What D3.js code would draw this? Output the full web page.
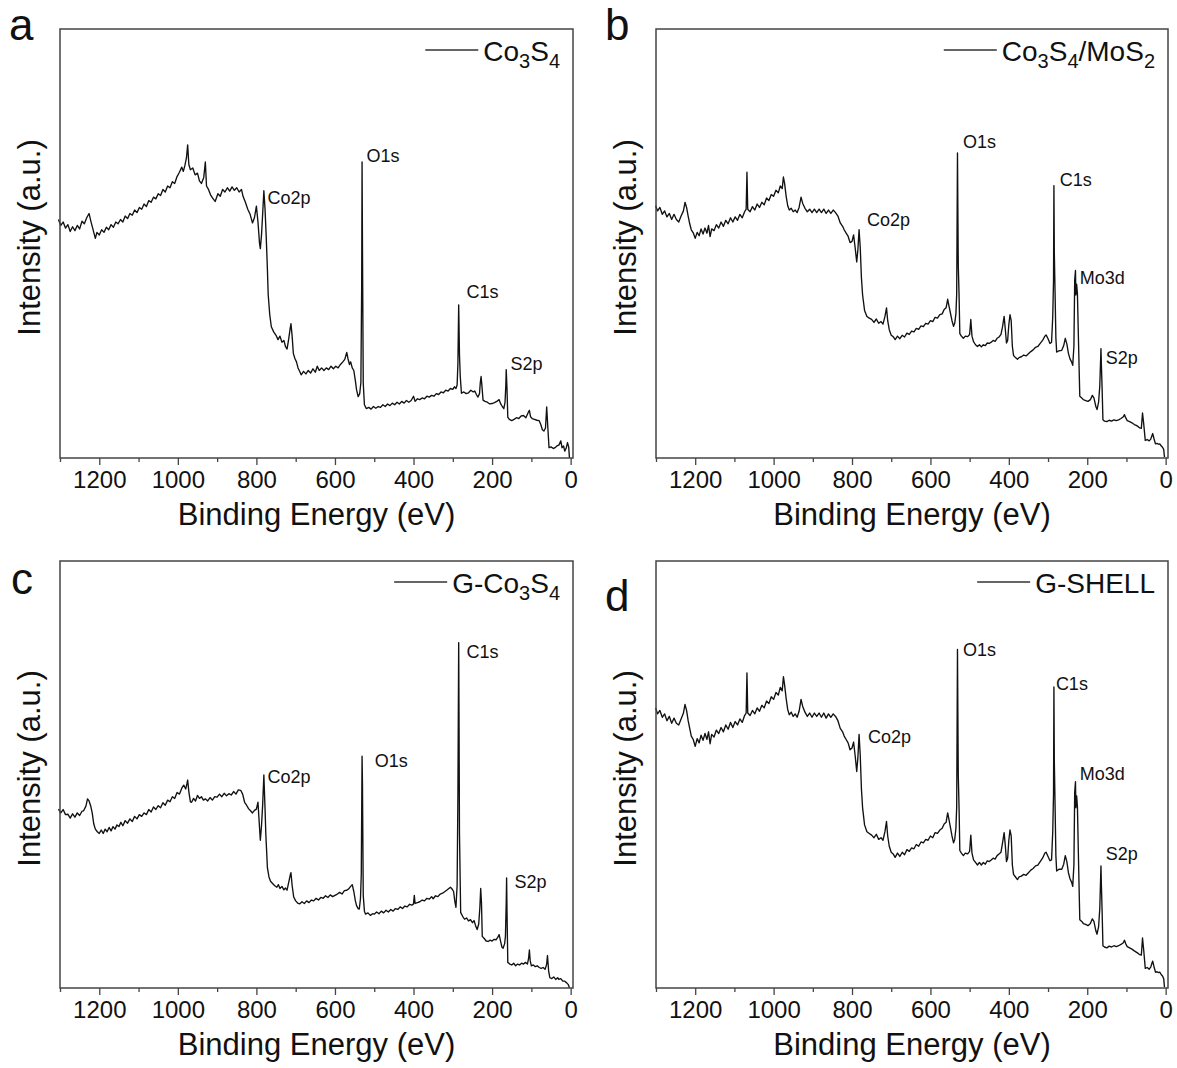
<!DOCTYPE html>
<html lang="en">
<head>
    <meta charset="UTF-8">
    <title>XPS survey spectra</title>
    <script src="https://d3js.org/d3.v7.min.js"></script>
    <style>
        body { margin: 0; background: #fff; }
        text { font-family: "Liberation Sans", Arial, sans-serif; fill: #111; }
        .frame { fill: none; stroke: #444; stroke-width: 1.5; }
        .spectrum { fill: none; stroke: #111; stroke-width: 1.35; stroke-linejoin: round; }
        .axis path { display: none; }
        .axis line { stroke: #444; stroke-width: 1.3; }
        .axis text { font-size: 24px; }
        .title { font-size: 31px; }
        .letter { font-size: 44px; }
        .legend { font-size: 28px; }
        .peak { font-size: 18px; }
    </style>
</head>
<body>
<script>
    // Tick values on the energy axis
    const majorTicks = [1200, 1000, 800, 600, 400, 200, 0];
    const minorTicks = [1300, 1100, 900, 700, 500, 300, 100];

    // Sample names (digits drawn as subscripts)
    const sampleNames = ["Co3S4", "Co3S4/MoS2", "G-Co3S4", "G-SHELL"];
    const panelLetters = ["a", "b", "c", "d"];

    // Spectra: [binding energy (eV), intensity (a.u., 0-100)]
    const spectrumA = [[1304,55.6],[1298,54.2],[1292,55.0],[1286,53.6],[1280,54.4],[1274,52.8],[1268,53.9],[1262,53.0],[1256,54.2],[1250,53.4],[1244,55.2],[1238,54.6],[1232,56.0],[1226,57.0],[1222,55.4],[1218,54.0],[1214,52.6],[1210,51.2],[1206,52.6],[1200,52.0],[1194,53.2],[1188,52.6],[1182,53.8],[1176,53.2],[1170,54.4],[1164,53.8],[1158,55.0],[1152,54.6],[1146,55.6],[1140,55.0],[1134,56.4],[1128,55.8],[1122,57.0],[1116,56.6],[1110,57.8],[1104,57.2],[1098,58.4],[1092,58.0],[1086,59.2],[1080,58.6],[1074,60.0],[1068,59.6],[1062,60.8],[1056,60.4],[1050,61.6],[1044,61.2],[1038,62.6],[1032,62.0],[1026,63.4],[1020,63.0],[1014,64.4],[1008,64.0],[1002,65.6],[996,66.6],[990,67.8],[986,66.8],[982,68.2],[978,70.0],[975,73.0],[972,68.4],[968,67.2],[962,67.6],[956,66.0],[950,66.4],[945,64.6],[940,64.0],[934,65.4],[930,69.0],[927,63.4],[922,62.6],[916,61.2],[910,60.4],[905,59.8],[898,61.6],[892,61.0],[886,62.6],[880,62.0],[874,63.0],[868,62.2],[862,63.2],[856,62.4],[850,63.0],[844,62.0],[838,62.6],[834,61.0],[828,59.6],[822,58.0],[816,56.8],[810,54.8],[805,56.0],[800,58.7],[796,55.0],[792,50.0],[790,48.8],[787,52.0],[784,57.0],[781,62.3],[778,58.0],[775,51.6],[772,44.0],[770,38.1],[766,33.4],[762,30.6],[756,29.4],[750,28.6],[745,27.6],[740,28.4],[735,27.0],[730,27.4],[726,26.0],[722,25.4],[718,27.6],[714,30.2],[712,31.3],[709,28.4],[706,24.4],[702,23.2],[698,22.4],[694,21.0],[690,20.2],[686,19.4],[680,20.2],[674,19.6],[668,20.4],[662,19.8],[656,20.8],[650,20.0],[645,21.4],[640,20.4],[634,21.0],[628,20.4],[622,21.0],[616,20.6],[610,21.4],[604,20.8],[598,21.4],[592,21.0],[586,21.8],[580,22.4],[575,23.0],[570,24.6],[567,23.2],[563,21.8],[560,22.4],[556,21.0],[552,20.4],[548,18.0],[545,15.9],[541,14.3],[537,15.0],[534,17.6],[532,40.0],[531,69.0],[530,50.0],[528,17.5],[525,12.4],[520,11.5],[514,11.8],[508,11.4],[502,12.0],[496,11.6],[490,12.0],[484,11.8],[478,12.4],[472,12.0],[466,12.6],[460,12.2],[454,12.8],[448,12.4],[442,13.0],[436,12.6],[430,13.2],[424,12.8],[418,13.4],[412,13.0],[406,13.4],[400,14.4],[396,13.2],[390,13.8],[384,13.6],[378,14.0],[372,13.8],[366,14.4],[360,14.2],[354,14.6],[348,14.4],[342,15.0],[336,14.8],[330,15.4],[324,15.2],[318,15.8],[312,15.6],[306,16.2],[300,16.0],[296,16.6],[292,16.2],[289,17.0],[287,22.0],[285,35.7],[283,24.0],[281,19.0],[278,15.1],[272,15.4],[266,15.0],[260,15.2],[254,15.8],[248,15.4],[244,15.6],[240,14.8],[236,14.2],[232,15.0],[230,17.6],[228,19.0],[226,17.0],[223,13.5],[218,13.2],[212,13.0],[206,12.6],[200,12.7],[194,12.9],[188,13.2],[182,13.6],[178,12.6],[174,12.0],[170,11.5],[167,13.0],[165,17.0],[164,20.6],[162,16.0],[160,9.5],[156,9.0],[150,8.7],[144,9.0],[138,9.4],[132,9.2],[126,9.8],[120,9.9],[114,9.4],[108,10.6],[105,11.1],[102,9.6],[98,9.2],[92,9.0],[86,8.8],[80,8.7],[76,7.8],[72,6.6],[68,6.3],[64,7.0],[61,11.9],[58,7.0],[55,2.4],[50,2.6],[44,2.2],[40,2.4],[35,2.8],[30,3.0],[25,4.0],[22,2.4],[18,2.8],[15,1.6],[11,2.4],[8,3.6],[5,2.6],[3,0]];

    const spectrumB = [[1301,58.8],[1296,57.6],[1290,58.4],[1284,56.8],[1278,57.6],[1272,56.2],[1266,57.0],[1260,55.6],[1254,56.8],[1248,55.6],[1242,55.0],[1236,56.4],[1230,57.6],[1226,59.6],[1222,58.4],[1218,56.4],[1214,54.6],[1210,53.2],[1205,52.5],[1200,51.2],[1195,52.6],[1190,51.8],[1185,53.4],[1180,52.2],[1175,53.6],[1170,52.4],[1166,54.2],[1162,51.6],[1158,53.4],[1152,53.0],[1146,54.4],[1140,53.6],[1134,55.0],[1128,54.0],[1122,55.4],[1116,54.6],[1110,56.0],[1104,55.0],[1098,56.2],[1092,55.4],[1086,56.8],[1080,56.0],[1074,57.4],[1070,58.0],[1068,66.6],[1066,58.0],[1060,57.4],[1054,58.6],[1048,57.8],[1042,59.2],[1036,58.4],[1030,59.6],[1024,59.0],[1018,60.6],[1012,60.0],[1006,61.4],[1000,61.0],[994,62.4],[988,61.8],[983,63.4],[978,62.8],[975,65.5],[972,64.0],[968,61.0],[964,58.8],[960,57.8],[955,58.2],[950,57.4],[945,57.8],[940,57.2],[935,58.4],[930,60.8],[926,59.4],[920,58.2],[914,57.4],[908,58.0],[902,57.2],[896,58.0],[890,57.2],[884,58.0],[878,57.2],[872,58.0],[866,57.0],[860,57.8],[854,57.0],[848,57.8],[842,57.2],[836,56.4],[830,54.8],[824,54.0],[820,53.2],[815,52.4],[810,51.7],[805,50.2],[800,50.5],[796,52.0],[792,49.0],[788,45.7],[785,48.6],[782,53.2],[779,49.0],[776,42.0],[773,38.0],[768,34.4],[762,33.0],[756,32.6],[750,32.3],[744,31.6],[738,32.4],[732,31.4],[726,31.8],[721,31.2],[716,33.0],[712,35.0],[709,32.0],[705,29.9],[700,28.6],[695,28.3],[690,27.6],[684,28.4],[678,27.8],[672,28.6],[666,28.2],[660,29.1],[654,28.8],[648,29.6],[642,29.4],[636,30.2],[630,30.0],[624,30.8],[618,30.6],[612,31.4],[606,31.2],[600,32.0],[594,31.8],[588,32.8],[582,32.6],[576,33.4],[570,33.6],[565,34.6],[560,35.0],[556,37.0],[553,35.6],[549,33.8],[545,32.0],[541,30.7],[538,31.4],[535,33.6],[533,38.2],[531,71.1],[529,45.0],[527,38.2],[525,29.0],[521,28.4],[516,27.9],[511,28.4],[505,28.3],[500,28.8],[497,32.3],[494,28.4],[490,27.1],[485,26.4],[480,26.0],[475,26.4],[470,25.9],[465,26.4],[460,26.2],[455,26.8],[450,26.7],[445,27.0],[440,27.4],[435,27.2],[430,27.9],[425,28.2],[420,28.8],[416,30.6],[412,33.0],[409,30.0],[406,26.8],[403,27.4],[400,31.1],[397,33.4],[394,32.0],[391,26.0],[388,23.9],[383,23.4],[378,23.0],[374,23.4],[368,23.6],[362,24.0],[356,23.8],[350,24.3],[344,24.8],[338,25.2],[332,25.8],[326,26.0],[320,26.7],[314,27.4],[308,28.4],[305,28.7],[300,27.8],[295,26.7],[291,27.0],[288,33.0],[286,41.4],[285,63.5],[284,48.0],[282,38.2],[280,28.0],[278,24.7],[272,25.0],[265,25.1],[260,26.2],[256,27.9],[252,26.6],[248,24.4],[244,23.1],[240,22.4],[237,21.6],[234,26.0],[232,41.4],[230,43.7],[229,38.0],[227,40.5],[225,38.2],[223,30.0],[221,22.0],[219,14.4],[214,14.0],[210,13.6],[204,13.4],[198,13.2],[192,13.6],[187,14.6],[183,14.0],[178,12.0],[175,11.3],[171,13.0],[168,16.8],[165,25.5],[164,22.0],[162,16.0],[160,8.9],[156,8.6],[150,8.5],[144,8.8],[138,8.6],[132,8.9],[126,8.7],[120,8.9],[114,9.2],[108,9.6],[105,10.1],[102,9.4],[98,8.7],[92,8.5],[86,8.2],[80,7.8],[75,7.6],[70,7.3],[66,7.0],[62,6.9],[59,10.5],[56,8.0],[52,4.1],[47,4.3],[42,4.0],[38,4.4],[35,5.2],[33,5.7],[30,4.6],[26,3.3],[22,3.4],[18,3.2],[15,3.3],[11,2.8],[8,2.5],[5,2.0],[3,0.2]];

    const spectrumC = [[1304,41.9],[1298,41.0],[1292,41.8],[1286,40.6],[1280,40.7],[1274,39.8],[1268,40.8],[1262,40.0],[1256,41.0],[1250,40.4],[1244,41.4],[1240,41.5],[1234,42.6],[1230,44.3],[1226,43.8],[1222,42.7],[1218,41.0],[1214,38.4],[1210,37.2],[1205,36.6],[1200,36.2],[1195,37.0],[1190,36.2],[1185,37.2],[1180,36.6],[1175,37.6],[1170,36.8],[1165,37.8],[1160,37.2],[1155,38.2],[1150,37.8],[1145,38.8],[1140,38.0],[1134,39.2],[1128,38.6],[1122,39.6],[1116,39.0],[1110,40.2],[1104,39.6],[1098,40.6],[1092,40.2],[1086,41.0],[1080,40.6],[1074,41.8],[1068,41.2],[1062,42.4],[1056,41.8],[1050,42.7],[1044,42.2],[1038,43.4],[1032,42.8],[1026,44.0],[1020,43.6],[1014,44.8],[1008,44.4],[1002,45.8],[996,45.4],[990,46.8],[985,47.5],[980,46.6],[977,47.8],[975,48.7],[972,46.0],[968,43.6],[965,43.5],[960,44.4],[955,43.8],[950,45.1],[945,44.4],[940,44.8],[935,44.0],[930,44.3],[924,43.8],[918,44.6],[912,44.0],[906,44.8],[900,44.7],[894,45.4],[888,44.8],[882,45.6],[876,45.0],[870,45.5],[864,45.2],[858,46.0],[852,45.4],[846,46.4],[840,46.3],[835,45.4],[830,43.5],[825,42.8],[820,42.0],[815,41.5],[810,41.0],[805,41.6],[800,41.9],[796,43.5],[793,39.0],[790,34.6],[787,38.0],[784,43.0],[781,49.9],[778,42.0],[776,36.0],[772,28.2],[768,26.0],[764,25.0],[760,24.6],[754,24.0],[748,23.6],[744,24.2],[740,23.3],[735,23.8],[730,23.0],[726,23.4],[722,22.9],[718,24.6],[714,26.4],[712,27.0],[709,24.0],[705,21.3],[700,20.4],[695,19.9],[690,19.7],[684,20.2],[678,19.8],[672,20.4],[666,20.0],[660,20.6],[654,20.4],[648,21.0],[642,20.6],[636,21.2],[630,21.0],[624,21.6],[618,21.2],[612,21.8],[606,21.4],[600,21.7],[594,22.0],[588,22.4],[582,22.0],[576,22.8],[570,22.9],[565,23.2],[560,23.8],[556,24.2],[552,22.6],[548,20.4],[545,19.3],[541,18.6],[538,18.5],[535,21.0],[533,26.6],[531,54.3],[530,48.0],[528,21.7],[525,18.0],[522,17.3],[516,17.6],[510,17.0],[504,17.4],[500,17.3],[494,17.8],[488,17.4],[482,18.0],[476,17.6],[470,18.2],[464,17.8],[458,18.4],[452,18.0],[446,18.6],[440,18.4],[434,19.0],[428,18.6],[422,19.2],[416,19.0],[410,19.6],[404,19.4],[400,19.7],[398,21.7],[396,19.8],[390,20.0],[384,20.2],[378,20.6],[372,20.4],[366,21.0],[360,20.8],[354,21.4],[350,20.9],[344,21.6],[338,21.4],[332,22.0],[326,22.2],[320,22.6],[314,23.0],[310,23.3],[306,23.6],[302,23.2],[298,22.6],[295,20.4],[292,18.9],[289,24.0],[287,45.1],[285,80.9],[284,60.0],[283,36.2],[281,24.0],[280,17.7],[275,16.8],[270,16.1],[265,16.4],[260,15.7],[255,16.0],[250,15.3],[246,15.8],[242,14.6],[238,13.7],[234,15.0],[231,19.0],[229,23.3],[227,20.0],[225,12.1],[220,11.6],[215,11.0],[210,10.9],[205,11.2],[200,11.0],[195,11.4],[190,11.3],[186,11.8],[182,12.5],[178,10.8],[175,9.6],[172,9.3],[168,10.4],[166,12.1],[164,20.0],[163,25.8],[162,18.0],[160,6.0],[155,5.6],[150,5.4],[145,5.8],[140,5.2],[135,5.6],[130,5.4],[125,5.8],[120,5.6],[115,6.0],[110,5.6],[107,7.0],[105,8.9],[103,6.4],[100,5.2],[95,5.4],[90,5.0],[85,5.2],[80,4.8],[75,4.6],[70,4.8],[65,4.4],[61,5.6],[59,7.6],[56,4.0],[53,2.4],[48,2.2],[43,2.6],[38,2.0],[33,2.4],[30,2.0],[25,2.2],[20,1.6],[15,1.6],[10,1.2],[6,0.8],[3,0]];

    const spectrumD = [[1301,65.6],[1296,64.2],[1290,65.0],[1284,63.4],[1278,64.2],[1272,62.6],[1266,63.6],[1260,62.0],[1254,63.2],[1248,62.0],[1242,61.6],[1236,63.0],[1230,64.4],[1226,66.4],[1222,65.0],[1218,62.6],[1214,60.8],[1210,59.0],[1205,58.2],[1200,56.6],[1195,58.4],[1190,57.4],[1185,59.2],[1180,58.0],[1175,59.6],[1170,58.2],[1166,60.0],[1162,57.2],[1158,59.4],[1152,58.8],[1146,60.4],[1140,59.6],[1134,61.0],[1128,60.0],[1122,61.6],[1116,60.6],[1110,62.2],[1104,61.0],[1098,62.4],[1092,61.6],[1086,63.0],[1080,62.2],[1074,63.8],[1070,64.4],[1068,73.8],[1066,64.4],[1060,63.8],[1054,65.0],[1048,64.2],[1042,65.6],[1036,64.8],[1030,66.2],[1024,65.6],[1018,67.2],[1012,66.6],[1006,68.2],[1000,67.6],[994,69.2],[988,68.6],[983,70.4],[978,69.6],[975,72.9],[972,71.0],[968,67.8],[964,65.2],[960,64.0],[955,64.6],[950,63.6],[945,64.2],[940,63.4],[935,64.8],[930,67.6],[926,66.0],[920,64.6],[914,63.6],[908,64.4],[902,63.4],[896,64.4],[890,63.6],[884,64.4],[878,63.4],[872,64.4],[866,63.2],[860,64.2],[854,63.4],[848,64.2],[842,63.6],[836,62.6],[830,60.8],[824,60.0],[820,59.0],[815,58.2],[810,57.4],[805,55.8],[800,56.2],[796,57.6],[792,54.4],[788,50.7],[785,54.0],[782,59.4],[779,54.4],[776,46.6],[773,42.2],[768,38.2],[762,36.6],[756,36.2],[750,35.8],[744,35.2],[738,36.0],[732,34.8],[726,35.2],[721,34.6],[716,36.6],[712,39.0],[709,35.6],[705,33.2],[700,31.8],[695,31.4],[690,30.6],[684,31.6],[678,30.8],[672,31.8],[666,31.2],[660,32.4],[654,32.0],[648,32.8],[642,32.6],[636,33.6],[630,33.2],[624,34.2],[618,34.0],[612,34.8],[606,34.6],[600,35.6],[594,35.2],[588,36.4],[582,36.2],[576,37.0],[570,37.4],[565,38.4],[560,38.8],[556,41.0],[553,39.6],[549,37.6],[545,35.6],[541,34.0],[538,34.8],[535,37.4],[533,42.4],[531,79.3],[529,50.0],[527,42.4],[525,32.2],[521,31.6],[516,31.0],[511,31.6],[505,31.4],[500,32.0],[497,35.8],[494,31.6],[490,30.0],[485,29.4],[480,28.8],[475,29.4],[470,28.8],[465,29.4],[460,29.0],[455,29.8],[450,29.6],[445,30.0],[440,30.4],[435,30.2],[430,31.0],[425,31.4],[420,31.8],[416,34.0],[412,36.4],[409,33.4],[406,29.6],[403,30.4],[400,34.6],[397,37.0],[394,35.6],[391,28.8],[388,26.6],[383,26.0],[378,25.4],[374,26.0],[368,26.2],[362,26.6],[356,26.4],[350,27.0],[344,27.6],[338,28.0],[332,28.6],[326,28.8],[320,29.6],[314,30.4],[308,31.6],[305,31.8],[300,30.8],[295,29.8],[291,30.0],[288,36.6],[286,45.5],[285,70.5],[284,53.4],[282,42.4],[280,31.0],[278,27.4],[272,27.8],[265,27.8],[260,29.0],[256,31.0],[252,29.6],[248,27.0],[244,25.6],[240,24.8],[237,23.8],[234,28.8],[232,45.8],[230,48.3],[229,42.2],[227,45.0],[225,42.4],[223,33.2],[221,24.4],[219,16.0],[214,15.6],[210,15.1],[204,14.9],[198,14.6],[192,15.1],[187,16.2],[183,15.6],[178,13.4],[175,12.6],[171,14.4],[168,18.6],[165,28.6],[164,24.4],[162,17.8],[160,9.9],[156,9.6],[150,9.4],[144,9.8],[138,9.6],[132,9.9],[126,9.7],[120,9.9],[114,10.2],[108,10.6],[105,11.2],[102,10.4],[98,9.7],[92,9.4],[86,9.1],[80,8.7],[75,8.4],[70,8.1],[66,7.8],[62,7.7],[59,11.7],[56,8.9],[52,4.6],[47,4.8],[42,4.4],[38,4.9],[35,5.8],[33,6.3],[30,5.1],[26,3.7],[22,3.8],[18,3.6],[15,3.7],[11,3.1],[8,2.8],[5,2.2],[3,0.2]];

    // Peak labels: [text, energy, intensity] = left/baseline of the label in data units
    const labelsA = [["O1s", 520, 69], ["Co2p", 772, 59.2], ["C1s", 265, 37.3], ["S2p", 153, 20.5]];
    const labelsB = [["O1s", 517, 72.3], ["Co2p", 762, 54.1], ["C1s", 270, 63.4], ["Mo3d", 219, 40.6], ["S2p", 153, 21.9]];
    const labelsC = [["Co2p", 772, 48], ["O1s", 499, 51.8], ["C1s", 265, 77.3], ["S2p", 143, 23.4]];
    const labelsD = [["O1s", 517, 77.8], ["Co2p", 759, 57.4], ["C1s", 280, 69.8], ["Mo3d", 219, 48.7], ["S2p", 153, 30]];

    const spectra = [spectrumA, spectrumB, spectrumC, spectrumD];
    const peakLabels = [labelsA, labelsB, labelsC, labelsD];

    // Panel boxes (plot area) in page pixels
    const boxes = [
        {left: 60, top: 29, width: 513, height: 429, letterX: 9, letterY: 40},
        {left: 656, top: 29, width: 512, height: 429, letterX: 605, letterY: 40},
        {left: 60, top: 561, width: 513, height: 427, letterX: 11, letterY: 594},
        {left: 656, top: 561, width: 512, height: 427, letterX: 605, letterY: 611}
    ];

    const svg = d3.select("body").append("svg")
        .attr("width", 1177)
        .attr("height", 1068);

    boxes.forEach((box, i) => {
        const g = svg.append("g")
            .attr("transform", `translate(${box.left},${box.top})`);

        const x = d3.scaleLinear().domain([1300, -6]).range([0, box.width]);
        const y = d3.scaleLinear().domain([0, 100]).range([box.height, 0]);

        // minor ticks
        g.append("g")
            .attr("class", "axis")
            .attr("transform", `translate(0,${box.height})`)
            .call(d3.axisBottom(x).tickValues(minorTicks).tickSize(4).tickFormat(""));

        // major ticks + labels
        g.append("g")
            .attr("class", "axis")
            .attr("transform", `translate(0,${box.height})`)
            .call(d3.axisBottom(x).tickValues(majorTicks).tickSize(7).tickPadding(6).tickFormat(d3.format("d")));

        // spectrum
        g.append("path")
            .datum(spectra[i])
            .attr("class", "spectrum")
            .attr("d", d3.line().x(d => x(d[0])).y(d => y(d[1])));

        // frame
        g.append("rect")
            .attr("class", "frame")
            .attr("width", box.width)
            .attr("height", box.height);

        // peak labels
        g.selectAll(".peak")
            .data(peakLabels[i])
            .enter()
            .append("text")
            .attr("class", "peak")
            .attr("x", d => x(d[1]))
            .attr("y", d => y(d[2]))
            .text(d => d[0]);

        // legend, right aligned, digits as subscripts
        const legendText = g.append("text")
            .attr("class", "legend")
            .attr("text-anchor", "end")
            .attr("x", box.width - 13)
            .attr("y", 32);
        let lowered = false;
        sampleNames[i].split(/(\d)/).filter(s => s).forEach(part => {
            const t = legendText.append("tspan").text(part);
            if (/\d/.test(part)) {
                t.attr("font-size", "20px").attr("dy", lowered ? 0 : 7);
                lowered = true;
            } else if (lowered) {
                t.attr("dy", -7);
                lowered = false;
            }
        });
        const textW = legendText.node().getComputedTextLength();
        g.append("line")
            .attr("x1", box.width - 13 - textW - 58)
            .attr("x2", box.width - 13 - textW - 5)
            .attr("y1", 21)
            .attr("y2", 21)
            .attr("stroke", "#333")
            .attr("stroke-width", 1.4);

        // axis titles
        g.append("text")
            .attr("class", "title")
            .attr("text-anchor", "middle")
            .attr("x", box.width / 2)
            .attr("y", box.height + 67)
            .text("Binding Energy (eV)");

        g.append("text")
            .attr("class", "title")
            .attr("text-anchor", "middle")
            .attr("transform", `translate(-20,${box.height / 2 - 6}) rotate(-90)`)
            .text("Intensity (a.u.)");

        // panel letter
        svg.append("text")
            .attr("class", "letter")
            .attr("x", box.letterX)
            .attr("y", box.letterY)
            .text(panelLetters[i]);
    });
</script>
</body>
</html>
